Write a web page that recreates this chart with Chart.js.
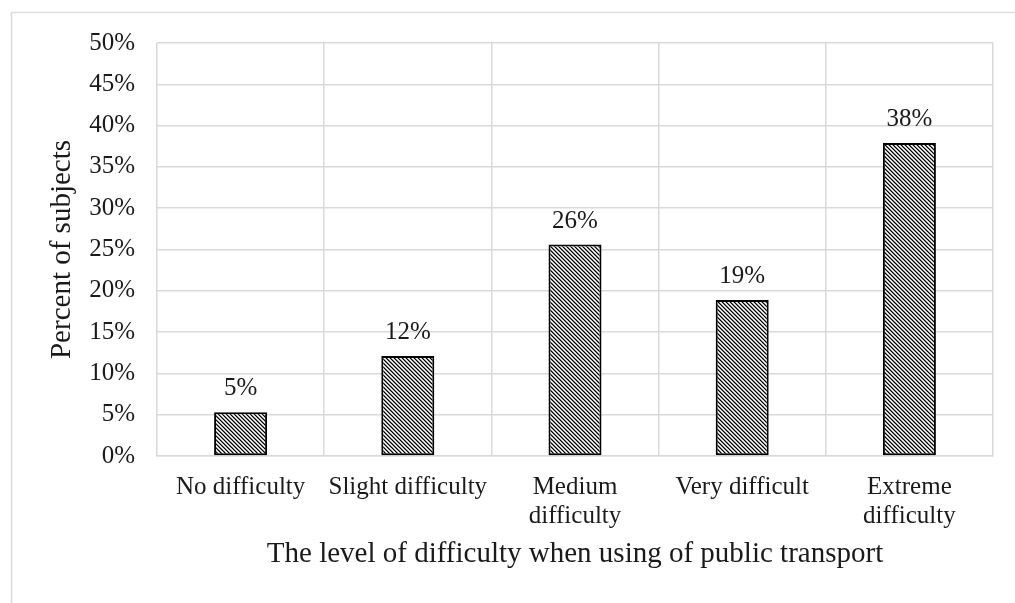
<!DOCTYPE html>
<html>
<head>
<meta charset="utf-8">
<script src="https://cdn.jsdelivr.net/npm/chart.js@4.4.1/dist/chart.umd.min.js"></script>
<style>
  html, body { margin: 0; padding: 0; background: #fff; }
  #wrap { width: 1015px; height: 603px; position: relative; }
</style>
</head>
<body>
<div id="wrap"><canvas id="chart" width="1015" height="603"></canvas></div>
<script>
// Difficulty categories (multi-line labels are arrays of lines)
const categories = [
  'No difficulty',
  'Slight difficulty',
  ['Medium', 'difficulty'],
  'Very difficult',
  ['Extreme', 'difficulty']
];
// Share of subjects per category, in percent
const percentValues = [5.3, 12.1, 25.6, 18.9, 37.9];
// Y axis range and step, in percent
const yTicks = { min: 0, max: 50, step: 5 };
const yTitle = 'Percent of subjects';
const xTitle = 'The level of difficulty when using of public transport';

const SERIF = '"Liberation Serif", "Times New Roman", serif';
const TEXT = '#1a1a1a';
const GRID = '#d9d9d9';

// Diagonal hatch fill for the bars
function makeHatch() {
  const n = 4;
  const c = document.createElement('canvas');
  c.width = n; c.height = n;
  const g = c.getContext('2d');
  const shades = ['#000000', '#7a7a7a', '#ffffff', '#bdbdbd'];
  for (let y = 0; y < n; y++) {
    for (let x = 0; x < n; x++) {
      g.fillStyle = shades[((x - y) % n + n) % n];
      g.fillRect(x, y, 1, 1);
    }
  }
  return g.createPattern(c, 'repeat');
}

// Frame lines along the top and left edges of the figure
const framePlugin = {
  id: 'frame',
  beforeDraw(chart) {
    const ctx = chart.ctx;
    ctx.save();
    ctx.fillStyle = '#fff';
    ctx.fillRect(0, 0, chart.width, chart.height);
    ctx.strokeStyle = '#dcdcdc';
    ctx.lineWidth = 1.5;
    ctx.beginPath();
    ctx.moveTo(11.5, chart.height);
    ctx.lineTo(11.5, 12.5);
    ctx.lineTo(chart.width, 12.5);
    ctx.stroke();
    ctx.restore();
  }
};

// Value labels above each bar
const valueLabelPlugin = {
  id: 'valueLabels',
  afterDatasetsDraw(chart) {
    const ctx = chart.ctx;
    const meta = chart.getDatasetMeta(0);
    const data = chart.data.datasets[0].data;
    ctx.save();
    ctx.font = '25px ' + SERIF;
    ctx.fillStyle = TEXT;
    ctx.textAlign = 'center';
    ctx.textBaseline = 'alphabetic';
    meta.data.forEach((bar, i) => {
      ctx.fillText(Math.round(data[i]) + '%', bar.x, bar.y - 17);
    });
    ctx.restore();
  }
};

const ctx = document.getElementById('chart').getContext('2d');
new Chart(ctx, {
  type: 'bar',
  data: {
    labels: categories,
    datasets: [{
      data: percentValues,
      backgroundColor: makeHatch(),
      borderColor: '#000',
      borderWidth: 2,
      borderSkipped: false,
      barPercentage: 0.317,
      categoryPercentage: 1.0
    }]
  },
  options: {
    responsive: false,
    animation: false,
    devicePixelRatio: 1,
    layout: { padding: { top: 43, right: 22, bottom: 0, left: 0 } },
    plugins: {
      legend: { display: false },
      tooltip: { enabled: false }
    },
    scales: {
      x: {
        grid: { color: GRID, lineWidth: 1.5, drawTicks: false, offset: true },
        border: { color: GRID, width: 1.5 },
        ticks: {
          color: TEXT,
          font: { family: SERIF, size: 25, lineHeight: 1.15 },
          padding: 17,
          maxRotation: 0,
          autoSkip: false
        },
        title: {
          display: true,
          text: xTitle,
          color: TEXT,
          font: { family: SERIF, size: 29, lineHeight: 1.2 },
          padding: { top: 0, bottom: 31 }
        },
        afterFit(scale) { scale.height = 147; }
      },
      y: {
        min: yTicks.min,
        max: yTicks.max,
        grid: { color: GRID, lineWidth: 1.5, drawTicks: false },
        border: { display: false },
        ticks: {
          stepSize: yTicks.step,
          color: TEXT,
          font: { family: SERIF, size: 25 },
          padding: 22,
          callback: v => v + '%'
        },
        title: {
          display: true,
          text: yTitle,
          color: TEXT,
          font: { family: SERIF, size: 29, lineHeight: 1.2 },
          padding: { top: 45, bottom: 0 }
        },
        afterFit(scale) { scale.width = 157; }
      }
    }
  },
  plugins: [framePlugin, valueLabelPlugin]
});
</script>
</body>
</html>
